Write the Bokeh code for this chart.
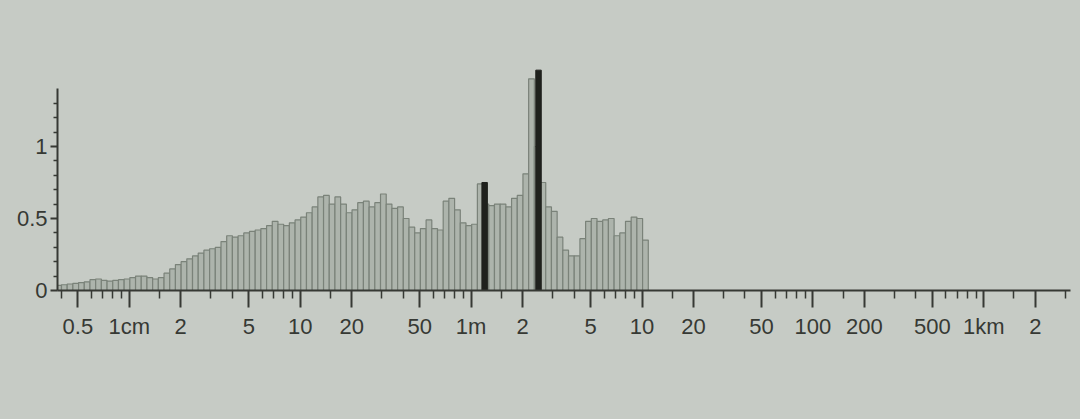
from bokeh.plotting import figure
from bokeh.models import FixedTicker, CustomJSTickFormatter, Range1d
from bokeh.embed import file_html
from bokeh.resources import INLINE

# Histogram bins: log10(size in metres) of the first edge and bin step
bin_log_start = -2.43
bin_log_step = 1 / 30
bin_values = [
    0.035, 0.04, 0.045, 0.05, 0.055, 0.06, 0.075, 0.08, 0.07, 0.065,
    0.07, 0.075, 0.08, 0.09, 0.10, 0.10, 0.09, 0.08, 0.09, 0.12,
    0.15, 0.18, 0.20, 0.22, 0.24, 0.26, 0.28, 0.29, 0.30, 0.34,
    0.38, 0.37, 0.38, 0.40, 0.41, 0.42, 0.43, 0.45, 0.48, 0.46,
    0.45, 0.47, 0.49, 0.51, 0.54, 0.58, 0.65, 0.66, 0.60, 0.65,
    0.60, 0.54, 0.56, 0.61, 0.62, 0.58, 0.61, 0.67, 0.60, 0.57,
    0.58, 0.50, 0.44, 0.40, 0.43, 0.49, 0.43, 0.42, 0.62, 0.64,
    0.56, 0.47, 0.45, 0.46, 0.74, 0.60, 0.59, 0.60, 0.60, 0.58,
    0.64, 0.66, 0.81, 1.47, 1.00, 0.75, 0.58, 0.55, 0.37, 0.28,
    0.24, 0.24, 0.36, 0.48, 0.50, 0.48, 0.49, 0.50, 0.38, 0.40,
    0.48, 0.51, 0.50, 0.35,
]

# Highlighted (black) bars
peak_sizes_m = [1.20, 2.48]
peak_values = [0.75, 1.53]

# Axis ticks
x_tick_values = [0.005, 0.01, 0.02, 0.05, 0.1, 0.2, 0.5, 1, 2, 5, 10, 20, 50,
                 100, 200, 500, 1000, 2000]
x_tick_labels = ["0.5", "1cm", "2", "5", "10", "20", "50", "1m", "2", "5", "10",
                 "20", "50", "100", "200", "500", "1km", "2"]
y_tick_values = [0, 0.5, 1]
y_tick_labels = ["0", "0.5", "1"]

BG = "#c6cbc5"
INK = "#363934"
FONT = "Liberation Sans"

n = len(bin_values)
lefts = [10 ** (bin_log_start + i * bin_log_step) for i in range(n)]
rights = [10 ** (bin_log_start + (i + 1) * bin_log_step) for i in range(n)]

p = figure(width=1072, height=411, x_axis_type="log",
           x_range=Range1d(10 ** -2.42, 10 ** 3.507), y_range=Range1d(0, 1.597),
           output_backend="svg", toolbar_location=None,
           min_border_left=57, min_border_right=2, min_border_top=60,
           min_border_bottom=121)
p.background_fill_color = BG
p.border_fill_color = BG
p.styles = {"background-color": BG}
p.outline_line_color = None
p.grid.visible = False

p.quad(left=lefts, right=rights, bottom=0, top=bin_values,
       fill_color="#adb4ac", line_color="#7a8279", line_width=1.2)

half = 10 ** 0.016
p.quad(left=[m / half for m in peak_sizes_m], right=[m * half for m in peak_sizes_m],
       bottom=0, top=peak_values, fill_color="#1f211d", line_color="#1f211d")

# x minor ticks
mant = [1.5, 3, 4, 6, 7, 8, 9]
x_minor = []
for dec in [0.001, 0.01, 0.1, 1, 10, 100, 1000]:
    for m in mant:
        x_minor.append(m * dec)

fmt_code = """
for (let i = 0; i < vals.length; i++) {
  if (Math.abs(tick - vals[i]) <= 1e-9 * Math.max(1, Math.abs(vals[i]))) return labs[i];
}
return "";
"""

xa = p.xaxis[0]
xa.ticker = FixedTicker(ticks=x_tick_values, minor_ticks=x_minor)
xa.formatter = CustomJSTickFormatter(args=dict(vals=x_tick_values, labs=x_tick_labels), code=fmt_code)
xa.axis_line_width = 2
xa.axis_line_color = INK
xa.major_tick_line_color = INK
xa.major_tick_line_width = 2
xa.major_tick_out = 17
xa.major_tick_in = 0
xa.minor_tick_line_color = INK
xa.minor_tick_line_width = 1.5
xa.minor_tick_out = 8
xa.minor_tick_in = 0
xa.major_label_text_font = FONT
xa.major_label_text_font_size = "22px"
xa.major_label_text_color = INK
xa.major_label_standoff = 6

ya = p.yaxis[0]
ya.bounds = (0, 1.4)
ya.ticker = FixedTicker(ticks=y_tick_values,
                        minor_ticks=[0.1, 0.2, 0.3, 0.4, 0.6, 0.7, 0.8, 0.9, 1.1, 1.2, 1.3])
ya.formatter = CustomJSTickFormatter(args=dict(vals=y_tick_values, labs=y_tick_labels), code=fmt_code)
ya.axis_line_width = 2
ya.axis_line_color = INK
ya.major_tick_line_color = INK
ya.major_tick_line_width = 2
ya.major_tick_out = 7
ya.major_tick_in = 0
ya.minor_tick_line_color = INK
ya.minor_tick_line_width = 1.5
ya.minor_tick_out = 4
ya.minor_tick_in = 0
ya.major_label_text_font = FONT
ya.major_label_text_font_size = "22px"
ya.major_label_text_color = INK
ya.major_label_standoff = 3

html = file_html(p, INLINE)
html = html.replace("</head>", "<style>html, body { background: #c6cbc5; }</style></head>", 1)
open("out.html", "w").write(html)
